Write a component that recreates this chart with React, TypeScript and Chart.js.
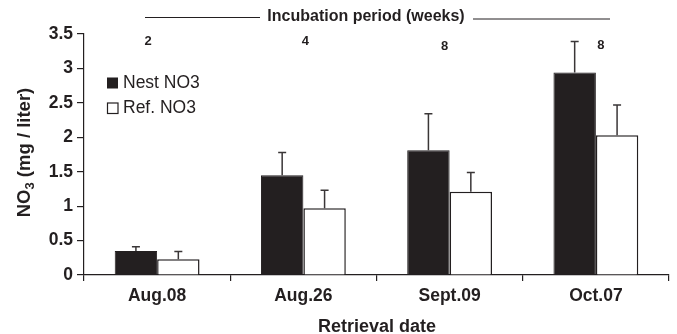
import React, { useEffect, useRef } from "react";
import { Chart, registerables } from "chart.js";

Chart.register(...registerables);

const categories = ["Aug.08", "Aug.26", "Sept.09", "Oct.07"];
const weeks = ["2", "4", "8", "8"];
const nestValues = [0.35, 1.45, 1.81, 2.94];
const nestErrTop = [0.41, 1.78, 2.34, 3.39];
const refValues = [0.23, 0.97, 1.21, 2.03];
const refErrTop = [0.34, 1.23, 1.49, 2.47];
const yTicks = [0, 0.5, 1, 1.5, 2, 2.5, 3, 3.5];

const FONT = '"Liberation Sans", Arial, Helvetica, sans-serif';
const INK = "#231f20";

export default function App() {
  const ref = useRef<HTMLCanvasElement | null>(null);

  useEffect(() => {
    const canvas = ref.current;
    if (!canvas) return;

    const errorBars = {
      id: "errorBars",
      afterDatasetsDraw(chart: any) {
        const ctx = chart.ctx;
        const y = chart.scales.y;
        const tops = [nestErrTop, refErrTop];
        ctx.save();
        ctx.strokeStyle = "#3a3637";
        ctx.lineWidth = 1.5;
        chart.data.datasets.forEach((_ds: any, di: number) => {
          const meta = chart.getDatasetMeta(di);
          meta.data.forEach((bar: any, i: number) => {
            const x = bar.x;
            const yTop = y.getPixelForValue(tops[di][i]);
            ctx.beginPath();
            ctx.moveTo(x, bar.y);
            ctx.lineTo(x, yTop);
            ctx.moveTo(x - 4, yTop);
            ctx.lineTo(x + 4, yTop);
            ctx.stroke();
          });
        });
        ctx.restore();
      },
    };

    const annotations = {
      id: "annotations",
      afterDraw(chart: any) {
        const ctx = chart.ctx;
        const xs = chart.scales.x;
        ctx.save();
        ctx.fillStyle = INK;
        // incubation header
        ctx.font = `bold 16px ${FONT}`;
        ctx.textAlign = "center";
        ctx.textBaseline = "middle";
        ctx.fillText("Incubation period (weeks)", 366, 17);
        ctx.strokeStyle = INK;
        ctx.lineWidth = 1;
        ctx.beginPath();
        ctx.moveTo(145, 17.5);
        ctx.lineTo(260, 17.5);
        ctx.moveTo(473, 19);
        ctx.lineTo(610, 19);
        ctx.stroke();
        // week numbers
        ctx.font = `bold 13px ${FONT}`;
        const wy = [41, 41, 46, 45];
        const wdx = [-9, 2, -5, 5];
        weeks.forEach((w, i) => {
          ctx.fillText(w, xs.getPixelForValue(i) + wdx[i], wy[i]);
        });
        // legend
        ctx.textAlign = "left";
        ctx.font = `17.5px ${FONT}`;
        ctx.fillStyle = INK;
        ctx.fillRect(107, 77.5, 11, 11);
        ctx.fillText("Nest NO3", 123, 83.5);
        ctx.fillStyle = "#ffffff";
        ctx.fillRect(107.5, 103, 10.5, 10.5);
        ctx.strokeStyle = INK;
        ctx.lineWidth = 1.2;
        ctx.strokeRect(107.5, 103, 10.5, 10.5);
        ctx.fillStyle = INK;
        ctx.fillText("Ref. NO3", 123, 108.5);
        // x title
        ctx.textAlign = "center";
        ctx.font = `bold 18px ${FONT}`;
        ctx.fillText("Retrieval date", 377, 327);
        // y title with subscript
        ctx.translate(25, 152.5);
        ctx.rotate(-Math.PI / 2);
        const big = `bold 18.5px ${FONT}`;
        const small = `bold 13px ${FONT}`;
        ctx.font = big;
        const w1 = ctx.measureText("NO").width;
        const w3 = ctx.measureText(" (mg / liter)").width;
        ctx.font = small;
        const w2 = ctx.measureText("3").width;
        const total = w1 + w2 + w3;
        let cx = -total / 2;
        ctx.textAlign = "left";
        ctx.font = big;
        ctx.fillText("NO", cx, 0);
        cx += w1;
        ctx.font = small;
        ctx.fillText("3", cx, 5);
        cx += w2;
        ctx.font = big;
        ctx.fillText(" (mg / liter)", cx, 0);
        ctx.restore();
      },
    };

    const chart = new Chart(canvas, {
      type: "bar",
      data: {
        labels: categories,
        datasets: [
          {
            label: "Nest NO3",
            data: nestValues,
            backgroundColor: INK,
            borderColor: INK,
            borderWidth: 1,
            categoryPercentage: 0.58,
            barPercentage: 1,
          },
          {
            label: "Ref. NO3",
            data: refValues,
            backgroundColor: "#ffffff",
            borderColor: INK,
            borderWidth: 1.5,
            categoryPercentage: 0.58,
            barPercentage: 1,
          },
        ],
      },
      options: {
        responsive: false,
        animation: false,
        events: [],
        layout: { padding: { left: 0, top: 34, right: 8, bottom: 0 } },
        plugins: {
          legend: { display: false },
          tooltip: { enabled: false },
        },
        scales: {
          x: {
            offset: true,
            grid: {
              offset: true,
              drawOnChartArea: false,
              drawTicks: true,
              tickLength: 6,
              color: INK,
              lineWidth: 1.2,
            },
            border: { display: true, color: INK, width: 1.2 },
            ticks: {
              color: INK,
              padding: 5,
              font: { family: FONT, size: 17.5, weight: "bold" },
              maxRotation: 0,
            },
            afterFit(scale: any) {
              scale.height = 59;
            },
          },
          y: {
            min: 0,
            max: 3.5,
            afterBuildTicks(scale: any) {
              scale.ticks = yTicks.map((v) => ({ value: v }));
            },
            grid: {
              drawOnChartArea: false,
              drawTicks: true,
              tickLength: 7,
              color: INK,
              lineWidth: 1.2,
            },
            border: { display: true, color: INK, width: 1.2 },
            ticks: {
              color: INK,
              padding: 4,
              font: { family: FONT, size: 17.5, weight: "bold" },
              callback: (v: any) => String(v),
            },
            afterFit(scale: any) {
              scale.width = 84;
            },
          },
        },
      },
      plugins: [errorBars, annotations],
    });

    return () => chart.destroy();
  }, []);

  return (
    <div style={{ position: "fixed", left: 0, top: 0, width: 677, height: 334, background: "#fff" }}>
      <canvas ref={ref} width={677} height={334} style={{ display: "block" }} />
    </div>
  );
}
